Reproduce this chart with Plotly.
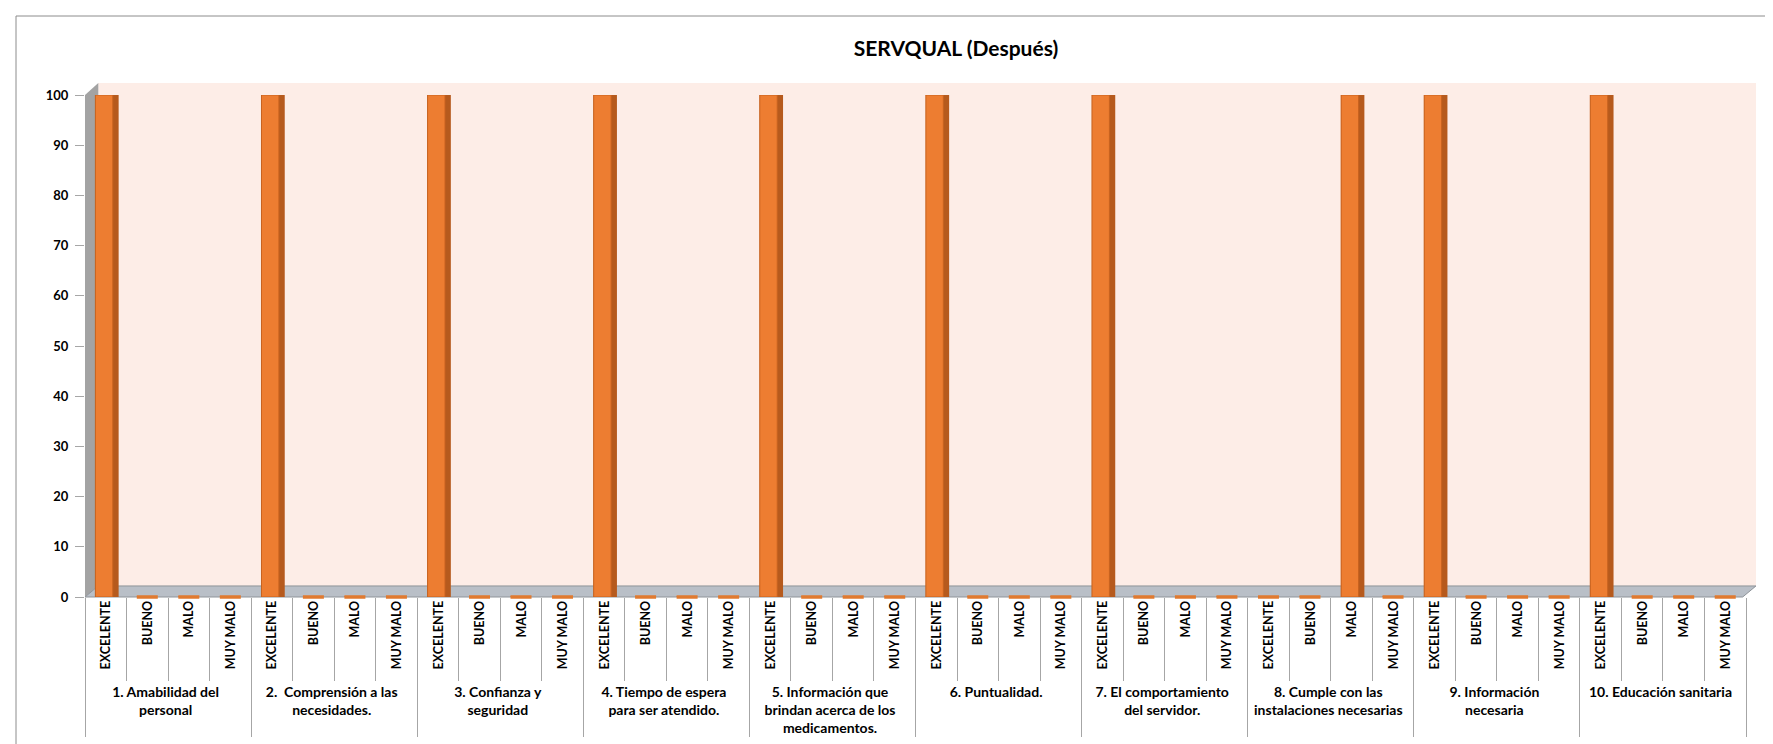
import plotly.graph_objects as go

# SERVQUAL (Después) - one bar per rating inside each dimension
dimensiones = [
    "1. Amabilidad del<br>personal",
    "2.  Comprensión a las<br>necesidades.",
    "3. Confianza y<br>seguridad",
    "4. Tiempo de espera<br>para ser atendido.",
    "5. Información que<br>brindan acerca de los<br>medicamentos.",
    "6. Puntualidad.",
    "7. El comportamiento<br>del servidor.",
    "8. Cumple con las<br>instalaciones necesarias",
    "9. Información<br>necesaria",
    "10. Educación sanitaria",
]
niveles = ["EXCELENTE", "BUENO", "MALO", "MUY MALO"]

excelente = [100, 100, 100, 100, 100, 100, 100, 0, 100, 100]
bueno = [0, 0, 0, 0, 0, 0, 0, 0, 0, 0]
malo = [0, 0, 0, 0, 0, 0, 0, 100, 0, 0]
muy_malo = [0, 0, 0, 0, 0, 0, 0, 0, 0, 0]

y_ticks = [0, 10, 20, 30, 40, 50, 60, 70, 80, 90, 100]

W, H = 1773, 744
ML, MR, MT, MB = 77, 35, 87, 155
FONT = "Lato, 'Open Sans', sans-serif"
ORANGE = "#ED7D31"
ORANGE_DARK = "#B65A1D"

# build the two level x axis (rating labels a bit smaller than the group labels)
series = [excelente, bueno, malo, muy_malo]
x_grupo, x_nivel, valores = [], [], []
for i, d in enumerate(dimensiones):
    for j, n in enumerate(niveles):
        x_grupo.append(d)
        x_nivel.append('<b><span style="font-size:12.5px">' + n + '</span></b>')
        valores.append(series[j][i])

cero_g = [g for g, v in zip(x_grupo, valores) if v == 0]
cero_n = [n for n, v in zip(x_nivel, valores) if v == 0]
cero_v = [v for v in valores if v == 0]

fig = go.Figure()
# dark side of the 3d column
fig.add_trace(go.Bar(
    x=[x_grupo, x_nivel], y=valores,
    marker=dict(color=ORANGE_DARK, line=dict(width=0)),
    width=0.56, offset=-0.25, hoverinfo="skip",
))
# front face
fig.add_trace(go.Bar(
    x=[x_grupo, x_nivel], y=valores,
    marker=dict(color=ORANGE, line=dict(color="#C7621F", width=1)),
    width=0.42, offset=-0.25, hoverinfo="y",
))
# flat slabs for the zero values
fig.add_trace(go.Scatter(
    x=[cero_g, cero_n], y=cero_v, mode="markers",
    marker=dict(symbol="line-ew", size=15, line=dict(color="#E07A30", width=3.5)),
    cliponaxis=False, hoverinfo="skip",
))

pw, ph = W - ML - MR, H - MT - MB
def px_x(v):
    return (v - ML) / pw
def px_y(v):
    return (H - MB - v) / ph

shapes = [
    # back wall
    dict(type="rect", xref="x domain", yref="y domain", x0=0.008, x1=1.006, y0=0.022, y1=1.024,
         fillcolor="#FDEDE7", line=dict(width=0), layer="below"),
    # side wall
    dict(type="path", xref="x domain", yref="y domain",
         path="M 0,0 L 0.008,0.022 L 0.008,1.024 L 0,1.0 Z",
         fillcolor="#A3A3A3", line=dict(width=0), layer="below"),
    # floor
    dict(type="path", xref="x domain", yref="y domain",
         path="M 0,0 L 0.998,0 L 1.006,0.022 L 0.008,0.022 Z",
         fillcolor="#B9BFC7", line=dict(color="#8E9399", width=1), layer="below"),
    # chart border
    dict(type="rect", xref="paper", yref="paper", x0=px_x(8), x1=px_x(1766), y0=px_y(8), y1=px_y(760),
         line=dict(color="#8C8C8C", width=1), fillcolor="rgba(0,0,0,0)"),
]

fig.update_layout(
    width=W, height=H,
    margin=dict(l=ML, r=MR, t=MT, b=MB, autoexpand=False),
    paper_bgcolor="white", plot_bgcolor="white",
    showlegend=False,
    barmode="overlay",
    font=dict(family=FONT, size=13, color="#000000"),
    title=dict(text="<b>SERVQUAL (Después)</b>", xref="container", yref="container",
               x=948 / W, y=1 - 41 / H, xanchor="center", yanchor="middle",
               font=dict(family=FONT, size=21, color="#000000")),
    shapes=shapes,
)
fig.update_xaxes(
    type="multicategory", range=[-0.5, 39.5], showgrid=False, showline=False, zeroline=False,
    ticks="outside", tickson="boundaries", ticklen=83, tickcolor="#A6A6A6",
    showdividers=True, dividercolor="#A6A6A6", dividerwidth=1,
    tickangle=-90, tickfont=dict(family=FONT, size=14, color="#000000", weight="bold"),
    automargin=False,
)
fig.update_yaxes(
    range=[0, 100], tickvals=y_ticks, showgrid=False, zeroline=False, showline=False,
    ticks="outside", ticklen=9, tickcolor="#A6A6A6", ticklabelstandoff=4,
    tickfont=dict(family=FONT, size=13, color="#000000", weight="bold"),
    automargin=False,
)

fig.write_html("out.html")
